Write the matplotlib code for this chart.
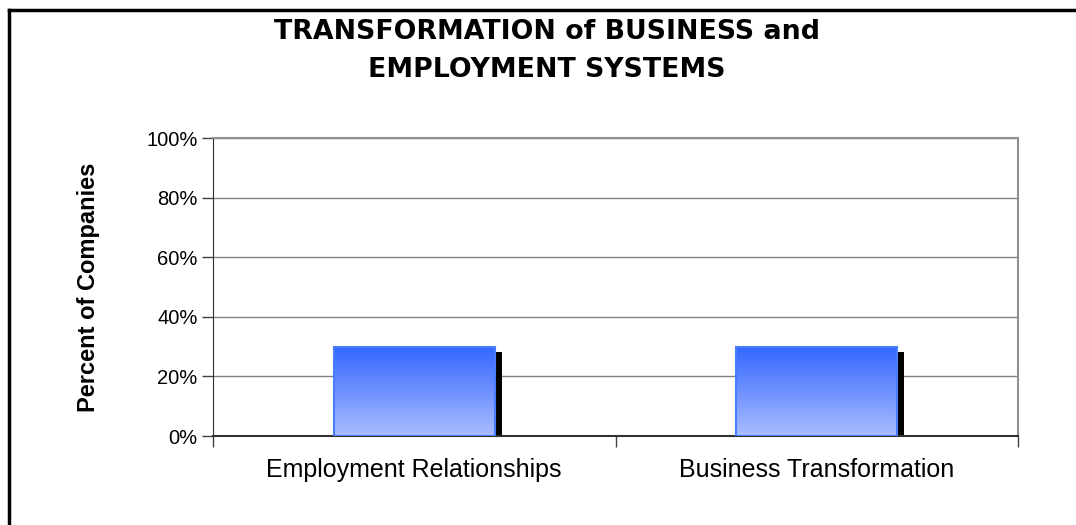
import numpy as np
import matplotlib
matplotlib.use("Agg")
import matplotlib.pyplot as plt
from matplotlib.transforms import ScaledTranslation
from matplotlib.colors import LinearSegmentedColormap
from matplotlib.lines import Line2D

categories = ["Employment Relationships", "Business Transformation"]
values = [30, 30]
yticks = [0, 20, 40, 60, 80, 100]
ytick_labels = ["0%", "20%", "40%", "60%", "80%", "100%"]
title = "TRANSFORMATION of BUSINESS and\nEMPLOYMENT SYSTEMS"
ylabel = "Percent of Companies"

W, H, DPI = 1076, 525, 100
fig = plt.figure(figsize=(W / DPI, H / DPI), dpi=DPI)
fig.patch.set_facecolor("white")

left, right, top, bottom = 213, 1018, 138, 436
ax = fig.add_axes([left / W, 1 - bottom / H, (right - left) / W, (bottom - top) / H])

x = np.arange(len(categories))
bw = 0.4

# drop shadow behind each bar
shadow_tr = ax.transData + ScaledTranslation(7 / DPI, -5 / DPI, fig.dpi_scale_trans)
ax.bar(x, values, width=bw, color="black", transform=shadow_tr, zorder=2)

bars = ax.bar(x, values, width=bw, color="none", edgecolor="#4a7cff", linewidth=1.5, zorder=4)

grad = LinearSegmentedColormap.from_list("g", ["#aabdff", "#3366ff"])
gimg = np.linspace(0, 1, 256).reshape(-1, 1)
for b in bars:
    x0, w, h = b.get_x(), b.get_width(), b.get_height()
    im = ax.imshow(gimg, cmap=grad, origin="lower", aspect="auto",
                   extent=[x0, x0 + w, 0, h], zorder=3)
    im.set_clip_path(b)

ax.set_xlim(-0.5, len(categories) - 0.5)
ax.set_ylim(0, 100)

ax.set_yticks(yticks)
ax.set_yticklabels(ytick_labels, fontsize=14.5, family="Liberation Sans")
ax.tick_params(axis="y", length=8, width=1, color="#404040", pad=3)
ax.yaxis.grid(True, color="#808080", linewidth=1)
ax.set_axisbelow(True)

ax.set_xticks(x)
ax.set_xticklabels(categories, fontsize=18, family="Liberation Sans")
ax.tick_params(axis="x", which="major", length=0, pad=16)
ax.set_xticks(np.arange(-0.5, len(categories), 1.0), minor=True)
ax.tick_params(axis="x", which="minor", length=8, width=1, color="#404040")

for s in ["top", "right"]:
    ax.spines[s].set_color("#909090")
    ax.spines[s].set_linewidth(1.5)
ax.spines["left"].set_color("#303030")
ax.spines["bottom"].set_color("#303030")
ax.spines["bottom"].set_linewidth(1.5)

ax.set_ylabel(ylabel, fontsize=17, fontweight="bold", family="Liberation Sans", labelpad=12)
ax.yaxis.set_label_coords(-(left - 100) / (right - left), 0.5)

fig.text(547 / W, 1 - 51 / H, title, ha="center", va="center", fontsize=19.3,
         fontweight="bold", family="DejaVu Sans", linespacing=1.6)

# outer frame along the top and left edges
fig.add_artist(Line2D([9 / W, 1.0], [1 - 10 / H, 1 - 10 / H], transform=fig.transFigure,
                      color="black", linewidth=2.5, solid_capstyle="projecting"))
fig.add_artist(Line2D([9 / W, 9 / W], [0.0, 1 - 10 / H], transform=fig.transFigure,
                      color="black", linewidth=2.5, solid_capstyle="projecting"))

fig.savefig("out.png", dpi=DPI)
